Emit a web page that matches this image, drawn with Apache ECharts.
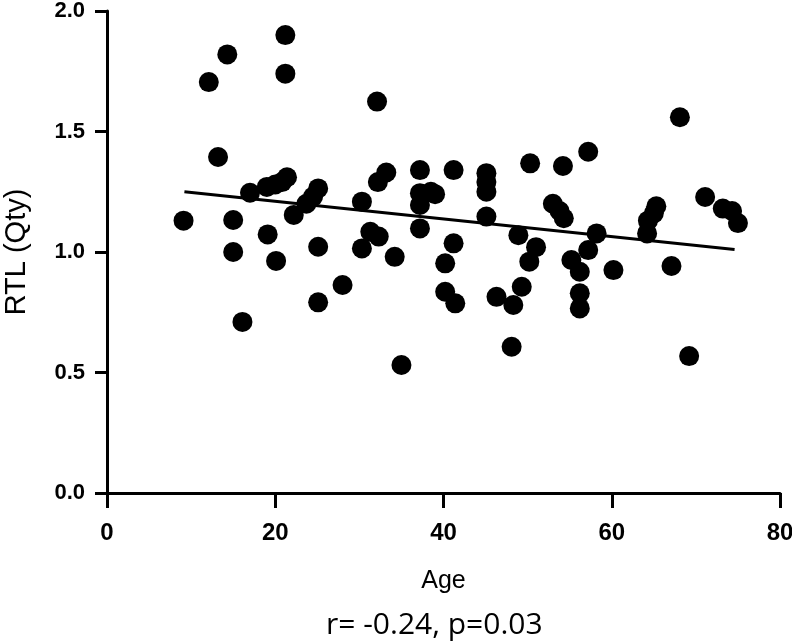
<!DOCTYPE html>
<html>
<head>
<meta charset="utf-8">
<script src="https://cdn.jsdelivr.net/npm/echarts@6/dist/echarts.min.js"></script>
<style>html,body{margin:0;padding:0;background:#fff;}#c{width:792px;height:644px;}</style>
</head>
<body>
<div id="c"></div>
<script>
const ages = [9.1,12.1,13.2,14.3,15.0,15.0,16.1,17.0,19.1,19.0,20.0,20.8,21.4,20.1,21.2,21.2,22.2,23.7,24.5,25.1,25.1,25.1,28.0,30.3,31.3,32.3,30.3,32.2,33.2,32.1,34.2,35.0,37.2,37.2,38.5,37.2,39.0,37.2,41.2,41.2,40.2,40.2,41.4,45.1,45.1,45.1,45.1,46.3,48.3,48.1,49.3,48.9,50.3,50.2,51.0,53.0,53.8,54.3,54.2,57.2,55.2,56.2,56.2,56.2,57.2,58.2,60.2,64.2,64.3,65.0,65.3,67.1,68.1,69.2,71.1,73.2,74.3,75.0];
const rtl = [1.13,1.705,1.394,1.82,1.133,1.00,0.71,1.246,1.073,1.27,1.28,1.29,1.31,0.963,1.90,1.74,1.154,1.20,1.23,1.264,1.022,0.791,0.863,1.209,1.084,1.064,1.015,1.29,1.33,1.624,0.98,0.531,1.34,1.244,1.25,1.195,1.24,1.098,1.34,1.036,0.953,0.835,0.787,1.327,1.29,1.25,1.147,0.814,0.78,0.607,0.856,1.07,1.368,0.96,1.02,1.20,1.17,1.14,1.357,1.416,0.967,0.918,0.829,0.766,1.008,1.077,0.925,1.077,1.13,1.16,1.19,0.942,1.559,0.568,1.228,1.18,1.17,1.12];
const trendAge = [9.2, 74.6];
const trendRtl = [1.25, 1.01];
const xTicks = [0, 20, 40, 60, 80];
const yTicks = [0.0, 0.5, 1.0, 1.5, 2.0];
const statText = 'r= -0.24, p=0.03';

const chart = echarts.init(document.getElementById('c'), null, {renderer: 'canvas'});
chart.setOption({
  animation: false,
  backgroundColor: '#fff',
  grid: {left: 107, right: 12, top: 11, bottom: 151, containLabel: false, outerBoundsMode: 'none'},
  xAxis: {
    type: 'value', min: xTicks[0], max: xTicks[xTicks.length - 1], interval: 20,
    axisLine: {show: true, onZero: false, lineStyle: {color: '#000', width: 3}},
    axisTick: {show: true, length: 15, lineStyle: {color: '#000', width: 3}},
    splitLine: {show: false},
    axisLabel: {color: '#000', fontFamily: 'Liberation Sans', fontWeight: 'bold', fontSize: 24, margin: 28},
    name: 'Age', nameLocation: 'middle', nameGap: 76,
    nameTextStyle: {color: '#000', fontFamily: 'Liberation Sans', fontSize: 25}
  },
  yAxis: {
    type: 'value', min: yTicks[0], max: yTicks[yTicks.length - 1], interval: 0.5,
    axisLine: {show: true, onZero: false, lineStyle: {color: '#000', width: 3}},
    axisTick: {show: true, length: 12, lineStyle: {color: '#000', width: 3}},
    splitLine: {show: false},
    axisLabel: {color: '#000', fontFamily: 'Liberation Sans', fontWeight: 'bold', fontSize: 22, margin: 22,
      formatter: v => v.toFixed(1)},
    name: 'RTL (Qty)', nameLocation: 'middle', nameGap: 76, nameRotate: 90,
    nameTextStyle: {color: '#000', fontFamily: 'Liberation Sans', fontSize: 29}
  },
  graphic: [{
    type: 'text', left: 326, top: 610,
    style: {text: statText, fill: '#000', font: '30px "Open Sans"'}
  }],
  series: [
    {
      type: 'scatter', symbol: 'circle', symbolSize: 20,
      itemStyle: {color: '#000', opacity: 1},
      data: ages.map((a, i) => [a, rtl[i]]), z: 3
    },
    {
      type: 'line', symbol: 'none', lineStyle: {color: '#000', width: 3},
      data: trendAge.map((a, i) => [a, trendRtl[i]]), z: 4
    }
  ]
});
</script>
</body>
</html>
